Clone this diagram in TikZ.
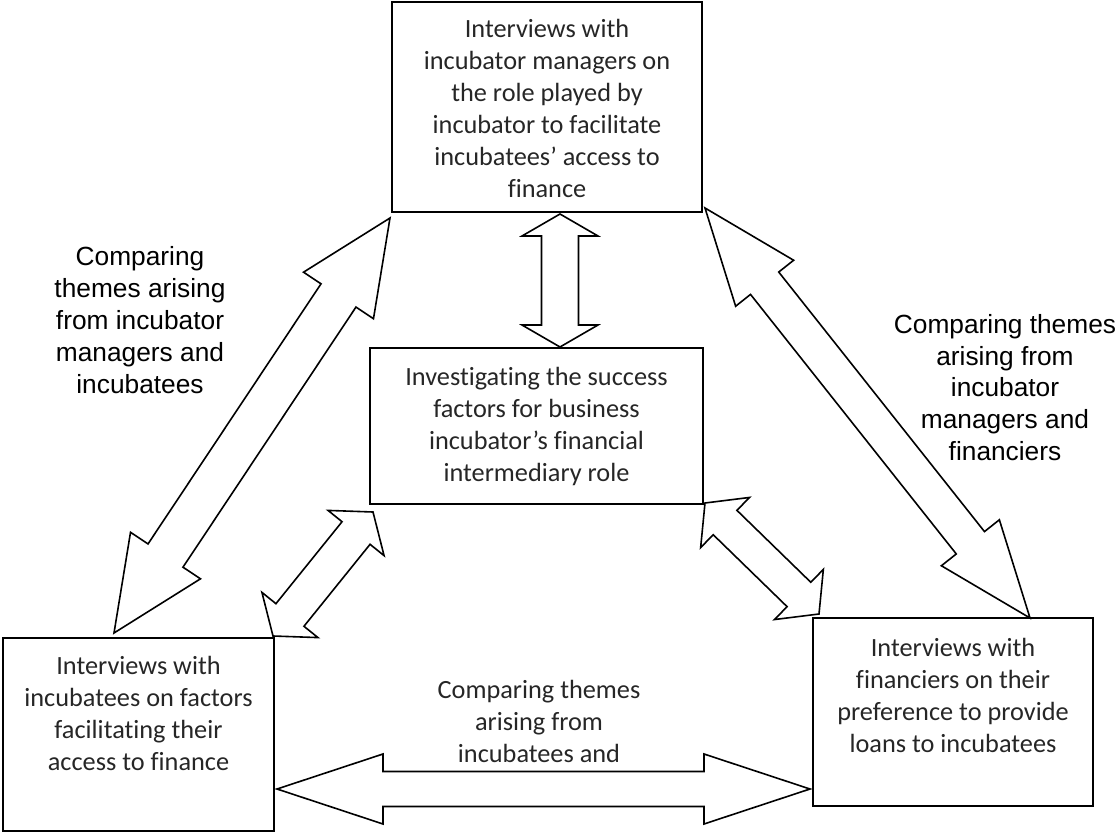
\documentclass[tikz,border=0pt]{standalone}
\usepackage{fontspec}
\usetikzlibrary{calc}
\newfontfamily\boxfont[Ligatures=NoCommon]{Carlito}
\newfontfamily\labelfont{Liberation Sans}
\tikzset{
  box/.style={draw=black, line width=2.2pt, inner sep=0pt, outer sep=0pt},
  boxtext/.style={font=\boxfont\fontsize{26.3}{32}\selectfont, text=black!85, align=center, inner sep=0pt},
  sidelabel/.style={font=\labelfont\fontsize{26.3}{31.8}\selectfont, align=center, inner sep=0pt},
  blockarrow/.style={draw=black, fill=white, line width=1.6pt, line join=miter},
}
% Hollow double-headed block arrow between two tips.
% #1,#2: tips; #3: head length; #4: head half-width; #5: shaft half-width
\newcommand\doublearrow[5]{%
  \draw[blockarrow] (#1)
    -- ($(#1)!#3!(#2)!#4!90:(#2)$)
    -- ($(#1)!#3!(#2)!#5!90:(#2)$)
    -- ($(#2)!#3!(#1)!#5!-90:(#1)$)
    -- ($(#2)!#3!(#1)!#4!-90:(#1)$)
    -- (#2)
    -- ($(#2)!#3!(#1)!#4!90:(#1)$)
    -- ($(#2)!#3!(#1)!#5!90:(#1)$)
    -- ($(#1)!#3!(#2)!#5!-90:(#2)$)
    -- ($(#1)!#3!(#2)!#4!-90:(#2)$)
    -- cycle;}
\begin{document}
\begin{tikzpicture}[x=1pt, y=-1pt]
  \useasboundingbox (0,0) rectangle (1117,832);

  % arrow tips
  \coordinate (vTop) at (560,214);
  \coordinate (vBot) at (560,347);
  \coordinate (lTop) at (390,218);
  \coordinate (lBot) at (114,633);
  \coordinate (rTop) at (705,208);
  \coordinate (rBot) at (1030,618);
  \coordinate (slTop) at (373,512);
  \coordinate (slBot) at (273,636);
  \coordinate (srTop) at (705,503);
  \coordinate (srBot) at (819,614);
  \coordinate (bLeft) at (277,789);
  \coordinate (bRight) at (810,789);

  % connectors
  \doublearrow{vTop}{vBot}{22pt}{38pt}{18.5pt}
  \doublearrow{lTop}{lBot}{93pt}{42pt}{21pt}
  \doublearrow{rTop}{rBot}{96pt}{37pt}{18pt}
  \doublearrow{slTop}{slBot}{27pt}{36pt}{18pt}
  \doublearrow{srTop}{srBot}{28pt}{35pt}{17pt}
  \doublearrow{bLeft}{bRight}{106pt}{35pt}{17.5pt}

  % boxes
  \node[box, minimum width=310pt, minimum height=210pt] (managers) at (547,107) {};
  \node[box, minimum width=333pt, minimum height=156pt] (centre) at (536.5,426) {};
  \node[box, minimum width=271pt, minimum height=193pt] (incubatees) at (138.5,734.5) {};
  \node[box, minimum width=280pt, minimum height=188pt] (financiers) at (953,712) {};

  % box texts
  \node[boxtext] (managersText) at (547,108) {Interviews with\\incubator managers on\\the role played by\\incubator to facilitate\\incubatees’ access to\\finance};
  \node[boxtext] (centreText) at (536.5,426) {Investigating the success\\factors for business\\incubator’s financial\\intermediary role};
  \node[boxtext] (incubateesText) at (138.5,713.5) {Interviews with\\incubatees on factors\\facilitating their\\access to finance};
  \node[boxtext] (financiersText) at (953,695) {Interviews with\\financiers on their\\preference to provide\\loans to incubatees};

  % connector labels
  \node[boxtext] (bottomLabel) at (539,721) {Comparing themes\\arising from\\incubatees and};
  \node[sidelabel] (leftLabel) at (140,320) {Comparing\\themes arising\\from incubator\\managers and\\incubatees};
  \node[sidelabel] (rightLabel) at (1005,387.5) {Comparing themes\\arising from\\incubator\\managers and\\financiers};
\end{tikzpicture}
\end{document}
